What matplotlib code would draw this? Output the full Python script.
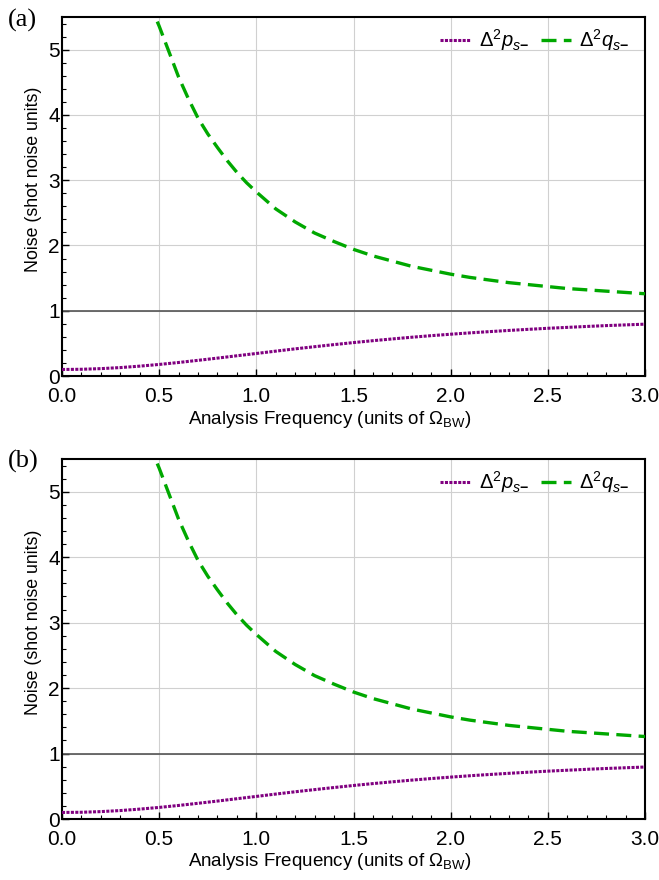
import matplotlib
matplotlib.use("Agg")
import matplotlib.pyplot as plt
from matplotlib.ticker import MultipleLocator, FormatStrFormatter

plt.rcParams['font.family'] = ['Liberation Sans', 'DejaVu Sans']
plt.rcParams['mathtext.fontset'] = 'custom'
plt.rcParams['mathtext.rm'] = 'Liberation Sans'
plt.rcParams['mathtext.it'] = 'Liberation Sans:italic'
plt.rcParams['mathtext.bf'] = 'Liberation Sans:bold'

# Data
freq_p = [0.0, 0.1, 0.2, 0.3, 0.4, 0.5, 0.6, 0.7, 0.8, 0.9, 1.0, 1.1, 1.2, 1.3, 1.4,
          1.5, 1.6, 1.7, 1.8, 1.9, 2.0, 2.1, 2.2, 2.3, 2.4, 2.5, 2.6, 2.7, 2.8, 2.9, 3.0]
noise_p = [0.100, 0.103, 0.113, 0.129, 0.151, 0.177, 0.207, 0.240, 0.274, 0.310, 0.345,
           0.381, 0.416, 0.449, 0.481, 0.512, 0.541, 0.568, 0.594, 0.618, 0.640,
           0.661, 0.680, 0.698, 0.715, 0.731, 0.745, 0.759, 0.772, 0.783, 0.794]

freq_q = [0.45, 0.48, 0.5, 0.55, 0.6, 0.65, 0.7, 0.75, 0.8, 0.85, 0.9, 0.95, 1.0, 1.1,
          1.2, 1.3, 1.4, 1.5, 1.6, 1.7, 1.8, 1.9, 2.0, 2.1, 2.2, 2.3, 2.4, 2.5, 2.6,
          2.7, 2.8, 2.9, 3.0]
noise_q = [5.75, 5.5, 5.36, 4.97, 4.58, 4.25, 3.95, 3.71, 3.50, 3.30, 3.12, 2.96, 2.82,
           2.56, 2.36, 2.19, 2.06, 1.94, 1.84, 1.76, 1.68, 1.62, 1.56, 1.51, 1.47,
           1.43, 1.40, 1.37, 1.34, 1.32, 1.30, 1.28, 1.26]

shot_noise_level = 1.0
panel_labels = ['(a)', '(b)']
label_p = r'$\Delta^2 p_{s\mathbf{-}}$'
label_q = r'$\Delta^2 q_{s\mathbf{-}}$'
xlabel = r'Analysis Frequency (units of $\Omega_{\mathrm{BW}}$)'
ylabel = 'Noise (shot noise units)'

purple = '#800080'
green = '#00A800'

fig = plt.figure(figsize=(6.59, 8.8), dpi=100)
W, H = 659, 880
panels = [(17, 376), (459, 819)]
left_px, right_px = 62, 645
label_centers = [20, 461]
xlabel_y = [424, 866]

for (top_px, bot_px), plabel, lc, xly in zip(panels, panel_labels, label_centers, xlabel_y):
    ax = fig.add_axes([left_px / W, 1 - bot_px / H, (right_px - left_px) / W,
                       (bot_px - top_px) / H])
    ax.plot(freq_p, noise_p, color=purple, lw=2.2, linestyle=(0, (1, 0.45)),
            label=label_p, zorder=3)
    ax.plot(freq_q, noise_q, color=green, lw=2.4, linestyle=(0, (4.5, 2.2)),
            label=label_q, zorder=3)
    ax.axhline(shot_noise_level, color='#555555', lw=1.2, zorder=2)
    ax.set_xlim(0, 3.0)
    ax.set_ylim(0, 5.5)
    ax.xaxis.set_major_locator(MultipleLocator(0.5))
    ax.xaxis.set_minor_locator(MultipleLocator(0.1))
    ax.yaxis.set_major_locator(MultipleLocator(1))
    ax.yaxis.set_minor_locator(MultipleLocator(0.2))
    ax.xaxis.set_major_formatter(FormatStrFormatter('%.1f'))
    ax.tick_params(which='both', direction='in', top=False, right=False,
                   labelsize=15, colors='black')
    ax.tick_params(which='major', length=5, width=1.0)
    ax.tick_params(which='minor', length=3, width=0.8)
    ax.tick_params(axis='x', which='major', pad=8)
    ax.tick_params(axis='y', which='major', pad=1.5)
    ax.grid(True, which='major', color='#d0d0d0', lw=0.8, zorder=0)
    for s in ax.spines.values():
        s.set_linewidth(1.5)
        s.set_color('black')
    ax.set_ylabel(ylabel, fontsize=12.8)
    h = bot_px - top_px
    ax.yaxis.set_label_coords(-20 / (right_px - left_px), 197 / h)
    fig.text(0.5, 1 - xly / H, xlabel, fontsize=13.5, ha='center', va='baseline')
    leg = ax.legend(loc='upper right', ncol=2, frameon=False, fontsize=14.5,
                    handlelength=1.5, columnspacing=0.6, handletextpad=0.4,
                    borderaxespad=0.0, bbox_to_anchor=(1 - 8 / (right_px - left_px),
                                                       1 - 2 / h))
    fig.text(8 / W, 1 - lc / H, plabel, family='Liberation Serif',
             fontsize=19, va='center', ha='left')

fig.savefig('out.png', dpi=100)
